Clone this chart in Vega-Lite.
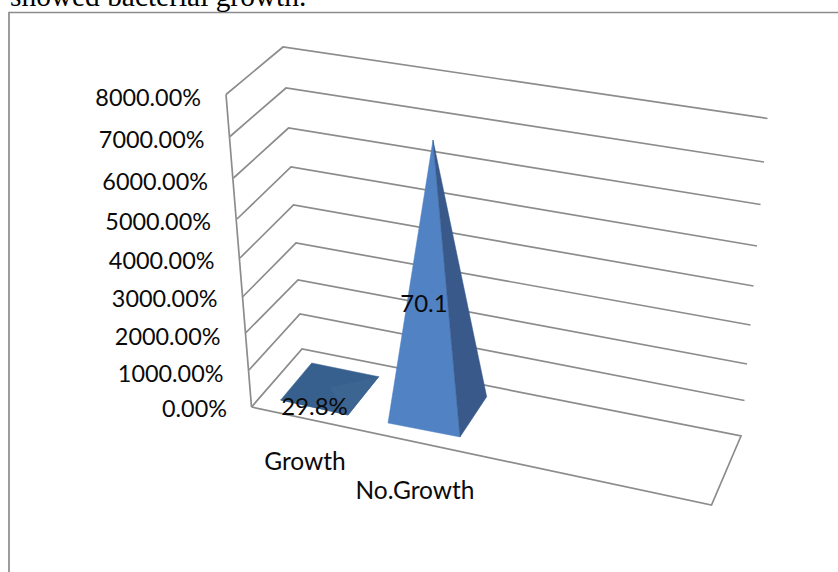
{
  "$schema": "https://vega.github.io/schema/vega-lite/v6.json",
  "width": 838,
  "height": 572,
  "padding": 0,
  "autosize": "none",
  "background": "white",
  "config": {"view": {"stroke": null}},
  "datasets": {
    "frame": [
      {"across": 9, "down": 572, "seq": 0},
      {"across": 9, "down": 12.5, "seq": 1},
      {"across": 838, "down": 12.5, "seq": 2}
    ],
    "walls": [
      {"path": "8000", "seq": 0, "across": 226, "down": 94.5},
      {"path": "8000", "seq": 1, "across": 283, "down": 47},
      {"path": "8000", "seq": 2, "across": 767.5, "down": 118.5},
      {"path": "7000", "seq": 0, "across": 230, "down": 136.5},
      {"path": "7000", "seq": 1, "across": 286, "down": 88},
      {"path": "7000", "seq": 2, "across": 764, "down": 162},
      {"path": "6000", "seq": 0, "across": 233.5, "down": 178},
      {"path": "6000", "seq": 1, "across": 288.5, "down": 128},
      {"path": "6000", "seq": 2, "across": 760.5, "down": 204.5},
      {"path": "5000", "seq": 0, "across": 237, "down": 219},
      {"path": "5000", "seq": 1, "across": 291, "down": 167},
      {"path": "5000", "seq": 2, "across": 757, "down": 246},
      {"path": "4000", "seq": 0, "across": 240, "down": 258},
      {"path": "4000", "seq": 1, "across": 293.5, "down": 205},
      {"path": "4000", "seq": 2, "across": 753.5, "down": 286},
      {"path": "3000", "seq": 0, "across": 242.5, "down": 297},
      {"path": "3000", "seq": 1, "across": 296, "down": 243},
      {"path": "3000", "seq": 2, "across": 750.5, "down": 325},
      {"path": "2000", "seq": 0, "across": 245.5, "down": 333},
      {"path": "2000", "seq": 1, "across": 298, "down": 280},
      {"path": "2000", "seq": 2, "across": 747, "down": 364},
      {"path": "1000", "seq": 0, "across": 249, "down": 370},
      {"path": "1000", "seq": 1, "across": 300, "down": 314},
      {"path": "1000", "seq": 2, "across": 744.5, "down": 400.5},
      {"path": "floor", "seq": 0, "across": 251.5, "down": 407},
      {"path": "floor", "seq": 1, "across": 302, "down": 349},
      {"path": "floor", "seq": 2, "across": 741, "down": 436},
      {"path": "floor", "seq": 3, "across": 711.5, "down": 505},
      {"path": "floor", "seq": 4, "across": 251.5, "down": 407},
      {"path": "axis", "seq": 0, "across": 226, "down": 94.5},
      {"path": "axis", "seq": 1, "across": 251.5, "down": 407}
    ],
    "pyramids": [
      {"face": "Growth back", "tone": "back", "seq": 0, "baseAcross": 280.7, "baseDown": 400, "height": 0},
      {"face": "Growth back", "tone": "back", "seq": 1, "baseAcross": 311.7, "baseDown": 363, "height": 0},
      {"face": "Growth back", "tone": "back", "seq": 2, "baseAcross": 378.7, "baseDown": 376.7, "height": 0},
      {"face": "Growth back", "tone": "back", "seq": 3, "baseAcross": 348, "baseDown": 415, "height": 0},
      {"face": "Growth front", "tone": "back", "seq": 0, "baseAcross": 280.7, "baseDown": 400, "height": 0},
      {"face": "Growth front", "tone": "back", "seq": 1, "baseAcross": 329.7, "baseDown": 389, "height": 0.298},
      {"face": "Growth front", "tone": "back", "seq": 2, "baseAcross": 348, "baseDown": 415, "height": 0},
      {"face": "Growth side", "tone": "sideLight", "seq": 0, "baseAcross": 348, "baseDown": 415, "height": 0},
      {"face": "Growth side", "tone": "sideLight", "seq": 1, "baseAcross": 329.7, "baseDown": 389, "height": 0.298},
      {"face": "Growth side", "tone": "sideLight", "seq": 2, "baseAcross": 378.7, "baseDown": 376.7, "height": 0},
      {"face": "No.Growth front", "tone": "front", "seq": 0, "baseAcross": 388, "baseDown": 423, "height": 0},
      {"face": "No.Growth front", "tone": "front", "seq": 1, "baseAcross": 437, "baseDown": 410, "height": 70.1},
      {"face": "No.Growth front", "tone": "front", "seq": 2, "baseAcross": 460, "baseDown": 437, "height": 0},
      {"face": "No.Growth side", "tone": "side", "seq": 0, "baseAcross": 460, "baseDown": 437, "height": 0},
      {"face": "No.Growth side", "tone": "side", "seq": 1, "baseAcross": 437, "baseDown": 410, "height": 70.1},
      {"face": "No.Growth side", "tone": "side", "seq": 2, "baseAcross": 486.7, "baseDown": 396.7, "height": 0}
    ],
    "valueLabels": [
      {"text": "29.8%", "across": 314.5, "down": 408},
      {"text": "70.1", "across": 424, "down": 305}
    ],
    "axisLabels": [
      {"text": "8000.00%", "across": 201, "down": 98.5},
      {"text": "7000.00%", "across": 204.5, "down": 140.5},
      {"text": "6000.00%", "across": 208, "down": 182.5},
      {"text": "5000.00%", "across": 211, "down": 222.5},
      {"text": "4000.00%", "across": 214.5, "down": 261.5},
      {"text": "3000.00%", "across": 217.5, "down": 299.5},
      {"text": "2000.00%", "across": 220.5, "down": 337.5},
      {"text": "1000.00%", "across": 223.5, "down": 374.5},
      {"text": "0.00%", "across": 227, "down": 409.5}
    ],
    "categoryLabels": [
      {"text": "Growth", "across": 305, "down": 463},
      {"text": "No.Growth", "across": 415, "down": 492}
    ],
    "caption": [
      {"text": "showed bacterial growth.", "across": 10, "down": 5.5}
    ]
  },
  "encoding": {
    "x": {"field": "across", "type": "quantitative", "scale": {"domain": [0, 838], "nice": false, "zero": false}, "axis": null},
    "y": {"field": "down", "type": "quantitative", "scale": {"domain": [572, 0], "nice": false, "zero": false}, "axis": null}
  },
  "layer": [
    {
      "data": {"name": "frame"},
      "mark": {"type": "line", "stroke": "#8c8c8c", "strokeWidth": 1.7},
      "encoding": {"order": {"field": "seq"}}
    },
    {
      "data": {"name": "walls"},
      "mark": {"type": "line", "stroke": "#8c8c8c", "strokeWidth": 1.7},
      "encoding": {
        "detail": {"field": "path"},
        "order": {"field": "seq"}
      }
    },
    {
      "data": {"name": "pyramids"},
      "transform": [
        {"calculate": "datum.baseAcross - datum.height * 0.057", "as": "across"},
        {"calculate": "datum.baseDown - datum.height * 3.85", "as": "down"}
      ],
      "mark": {"type": "line", "strokeWidth": 0.5, "interpolate": "linear-closed"},
      "encoding": {
        "detail": {"field": "face"},
        "order": {"field": "seq"},
        "fill": {
          "field": "tone", "type": "nominal", "legend": null,
          "scale": {"domain": ["front", "side", "back", "sideLight"], "range": ["#5082c4", "#38598a", "#38608e", "#3c6592"]}
        },
        "stroke": {
          "field": "tone", "type": "nominal", "legend": null,
          "scale": {"domain": ["front", "side", "back", "sideLight"], "range": ["#5082c4", "#38598a", "#38608e", "#3c6592"]}
        }
      }
    },
    {
      "data": {"name": "axisLabels"},
      "mark": {"type": "text", "font": "Lato", "fontSize": 23.4, "align": "right", "baseline": "middle", "color": "#0a0a0a"},
      "encoding": {"text": {"field": "text"}}
    },
    {
      "data": {"name": "categoryLabels"},
      "mark": {"type": "text", "font": "Lato", "fontSize": 24.5, "align": "center", "baseline": "middle", "color": "#0a0a0a"},
      "encoding": {"text": {"field": "text"}}
    },
    {
      "data": {"name": "valueLabels"},
      "mark": {"type": "text", "font": "Lato", "fontSize": 24, "align": "center", "baseline": "middle", "color": "#0a0a0a"},
      "encoding": {"text": {"field": "text"}}
    },
    {
      "data": {"name": "caption"},
      "mark": {"type": "text", "font": "Liberation Serif", "fontSize": 29.4, "align": "left", "baseline": "alphabetic", "color": "#000000"},
      "encoding": {"text": {"field": "text"}}
    }
  ]
}
